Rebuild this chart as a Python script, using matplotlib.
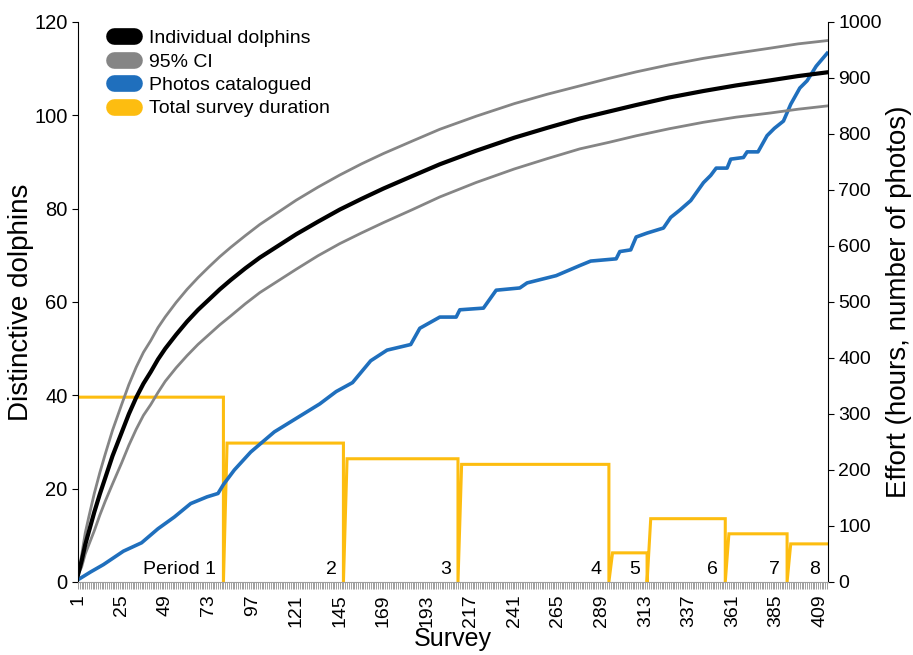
import matplotlib
matplotlib.use("Agg")
import matplotlib.pyplot as plt
from matplotlib.lines import Line2D
from matplotlib.ticker import MultipleLocator

plt.rcParams['font.family'] = ['Liberation Sans', 'DejaVu Sans']

# cumulative distinctive dolphins (left axis) with 95% CI
curve_survey = [1, 3, 5, 7, 10, 13, 16, 20, 25, 29, 33, 37, 41, 45, 49, 55, 61, 67, 73, 79, 85, 93,
                101, 111, 121, 133, 145, 157, 169, 185, 200, 220, 241, 259, 277, 293, 308, 326, 345,
                363, 382, 397, 413]
dolphins = [1.5, 4.5, 8, 10.8, 15, 18.8, 22.3, 27, 32, 36, 39.5, 42.5, 45, 47.7, 50, 53, 55.8, 58.3,
            60.5, 62.7, 64.7, 67.2, 69.5, 72, 74.5, 77.2, 79.8, 82.1, 84.3, 87, 89.5, 92.4, 95.2,
            97.3, 99.3, 100.8, 102.2, 103.8, 105.2, 106.4, 107.5, 108.4, 109.2]
ci_upper = [1.5, 5.7, 10.5, 14, 19, 23.4, 27.4, 32.5, 38, 42.3, 46, 49.2, 51.7, 54.5, 56.8, 59.9,
            62.7, 65.2, 67.5, 69.7, 71.7, 74.2, 76.6, 79.2, 81.8, 84.6, 87.2, 89.6, 91.8, 94.5, 97,
            99.8, 102.5, 104.5, 106.3, 107.9, 109.3, 110.8, 112.2, 113.3, 114.4, 115.3, 116]
ci_lower = [1.5, 3.2, 6, 8, 11, 14.3, 17.3, 21, 25.5, 29.3, 32.7, 35.7, 38, 40.6, 43, 45.9, 48.5,
            50.9, 53, 55.1, 57, 59.6, 62, 64.5, 67, 69.9, 72.5, 74.8, 77, 79.8, 82.5, 85.6, 88.5,
            90.7, 92.8, 94.2, 95.6, 97.1, 98.5, 99.6, 100.5, 101.3, 102]

# photos catalogued (right axis)
photo_survey = [1, 8, 15, 26, 36, 45, 54, 63, 72, 78, 81, 87, 96, 109, 127, 134, 143, 152, 162, 171,
                184, 189, 200, 209, 211, 224, 231, 244, 248, 264, 277, 283, 297, 299, 305, 308, 314, 323,
                327, 332, 338, 345, 349, 352, 358, 360, 367, 369, 375, 380, 384, 389, 393, 398, 402, 407, 413]
photos = [4, 18, 31, 55, 70, 95, 116, 140, 152, 158, 174, 200, 232, 268, 304, 318, 340, 356, 395, 414,
          424, 453, 473, 473, 486, 489, 521, 525, 534, 547, 565, 573, 577, 590, 593, 616, 623, 632,
          651, 664, 681, 713, 726, 739, 739, 755, 758, 768, 768, 797, 810, 823, 853, 882, 895, 921, 944]

# survey periods: last survey of each period and total hours
period_end = [81, 147, 210, 293, 314, 357, 391, 413]
period_hours = [330, 248, 220, 210, 52, 113, 86, 68]
period_labels = ['Period 1', '2', '3', '4', '5', '6', '7', '8']

xtick_labels = list(range(1, 410, 24))

BLACK = '#000000'
GRAY = '#858585'
BLUE = '#1f6fbd'
YELLOW = '#fdbd10'

fig = plt.figure(figsize=(9.13, 6.55), dpi=100)
ax = fig.add_axes([0.0854, 0.1115, 0.8215, 0.855])
ax2 = ax.twinx()
ax.set_zorder(ax2.get_zorder() + 1)
ax.patch.set_visible(False)

# yellow effort steps
yx, yy = [], []
start = 1
for i, (end, h) in enumerate(zip(period_end, period_hours)):
    if i > 0:
        yx.append(start - 2)
        yy.append(0)
    yx += [start, end]
    yy += [h, h]
    if i < len(period_end) - 1:
        yx.append(end)
        yy.append(0)
    start = end + 2
ax2.plot(yx, yy, color=YELLOW, lw=2.2, solid_joinstyle='miter')
ax2.plot(photo_survey, photos, color=BLUE, lw=2.6)

ax.plot(curve_survey, ci_upper, color=GRAY, lw=2)
ax.plot(curve_survey, ci_lower, color=GRAY, lw=2)
ax.plot(curve_survey, dolphins, color=BLACK, lw=3)

ax.set_xlim(1, 413.5)
ax.set_ylim(0, 120)
ax2.set_ylim(0, 1000)
ax.set_yticks(range(0, 121, 20))
ax2.set_yticks(range(0, 1001, 100))
ax.set_xticks(xtick_labels)
ax.set_xticklabels([str(v) for v in xtick_labels], rotation=90)
ax.xaxis.set_minor_locator(MultipleLocator(1))

ax.tick_params(axis='x', which='both', direction='out', length=5, width=0.7,
               color='#a0a0a0', labelsize=14, pad=4)
ax.tick_params(axis='y', direction='out', length=4, width=0.8, labelsize=14.5)
ax2.tick_params(axis='y', direction='out', length=4, width=0.8, labelsize=14)

for s in ['top', 'right']:
    ax.spines[s].set_visible(False)
for s in ['top', 'left', 'bottom']:
    ax2.spines[s].set_visible(False)
ax.spines['bottom'].set_color('#a0a0a0')
ax.spines['left'].set_linewidth(0.8)
ax2.spines['right'].set_linewidth(0.8)

ax.set_ylabel('Distinctive dolphins', fontsize=20, labelpad=0)
ax2.set_ylabel('Effort (hours, number of photos)', fontsize=20, labelpad=3)
ax.set_xlabel('Survey', fontsize=18, labelpad=0)

for end, lab in zip(period_end, period_labels):
    ax.annotate(lab, xy=(end, 0), xytext=(-5, 3), textcoords='offset points',
                ha='right', va='bottom', fontsize=14)

handles = [Line2D([0], [0], color=c, lw=12, solid_capstyle='round')
           for c in [BLACK, GRAY, BLUE, YELLOW]]
ax.legend(handles, ['Individual dolphins', '95% CI', 'Photos catalogued', 'Total survey duration'],
          loc='upper left', bbox_to_anchor=(0.125, 0.955), bbox_transform=fig.transFigure,
          frameon=False, fontsize=14, handlelength=1.0, handletextpad=0.8,
          labelspacing=0.3, borderpad=0, borderaxespad=0)

fig.savefig('out.png', dpi=100)
